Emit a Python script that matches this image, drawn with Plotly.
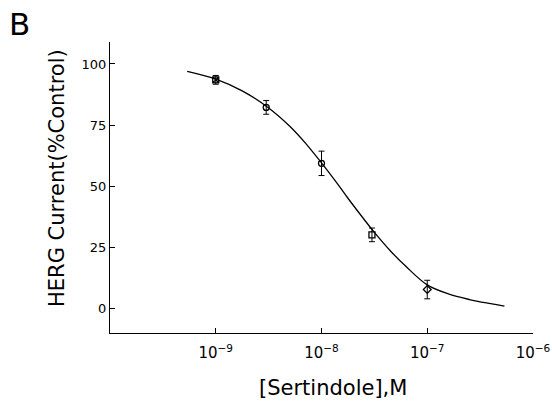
import plotly.graph_objects as go

# Data points (concentration in M, % control)
conc = [1e-9, 3e-9, 1e-8, 3e-8, 1e-7]
current = [93.5, 82.2, 59.3, 30.0, 7.6]
err = [1.8, 2.8, 5.0, 2.8, 3.8]
symbols = ["square-x-open", "circle-open", "circle-open", "square-open", "diamond-open"]

# Fitted curve (log10 concentration, % control)
curve_logc = [-9.27, -9.0, -8.75, -8.5, -8.3, -8.15, -8.0, -7.85, -7.75, -7.6,
              -7.5, -7.35, -7.2, -7.0, -6.8, -6.6, -6.4, -6.27]
curve_val = [97.0, 93.8, 89.0, 82.0, 74.5, 67.5, 59.5, 51.0, 45.0, 36.5,
             31.0, 23.5, 17.0, 9.5, 5.8, 3.5, 1.8, 0.8]

xticks = [1e-9, 1e-8, 1e-7, 1e-6]
xticklabels = ["10<sup>−9</sup>", "10<sup>−8</sup>", "10<sup>−7</sup>", "10<sup>−6</sup>"]
yticks = [0, 25, 50, 75, 100]

font_family = "DejaVu Sans"

fig = go.Figure()
fig.add_trace(go.Scatter(
    x=[10 ** v for v in curve_logc], y=curve_val, mode="lines",
    line=dict(color="black", width=1.3, shape="spline", smoothing=1.0),
    hoverinfo="skip", showlegend=False))
fig.add_trace(go.Scatter(
    x=conc, y=current, mode="markers",
    marker=dict(symbol=symbols, size=6, color="black",
                line=dict(color="black", width=1.3)),
    error_y=dict(type="data", array=err, visible=True, color="black",
                 thickness=1, width=3),
    showlegend=False))

fig.update_xaxes(
    type="log", range=[-10, -6], tickvals=xticks, ticktext=xticklabels,
    ticks="inside", ticklen=5, tickcolor="black", tickwidth=1,
    showline=True, linecolor="black", linewidth=1.3,
    showgrid=False, zeroline=False, automargin=False,
    ticklabelstandoff=6,
    tickfont=dict(family=font_family, size=15, color="black"))
fig.update_yaxes(
    range=[-10.2, 109], tickvals=yticks,
    ticks="inside", ticklen=5, tickcolor="black", tickwidth=1,
    showline=True, linecolor="black", linewidth=1.3,
    showgrid=False, zeroline=False, automargin=False,
    tickfont=dict(family=font_family, size=13, color="black"))

fig.add_annotation(text="[Sertindole],M", xref="paper", yref="paper",
                   x=0.527, y=-0.189, xanchor="center", yanchor="middle",
                   showarrow=False,
                   font=dict(family=font_family, size=21, color="black"))
fig.add_annotation(text="HERG Current(%Control)", xref="paper", yref="paper",
                   x=-0.125, y=0.533, xanchor="center", yanchor="middle",
                   textangle=-90, showarrow=False,
                   font=dict(family=font_family, size=21, color="black"))
fig.add_annotation(text="B", xref="paper", yref="paper", x=-0.243, y=1.13,
                   xanchor="left", yanchor="top", showarrow=False,
                   font=dict(family=font_family, size=31, color="black"))

fig.update_layout(
    width=552, height=404,
    margin=dict(l=110, r=19, t=42, b=71),
    paper_bgcolor="white", plot_bgcolor="white",
    font=dict(family=font_family, color="black"))

fig.write_html("out.html")
